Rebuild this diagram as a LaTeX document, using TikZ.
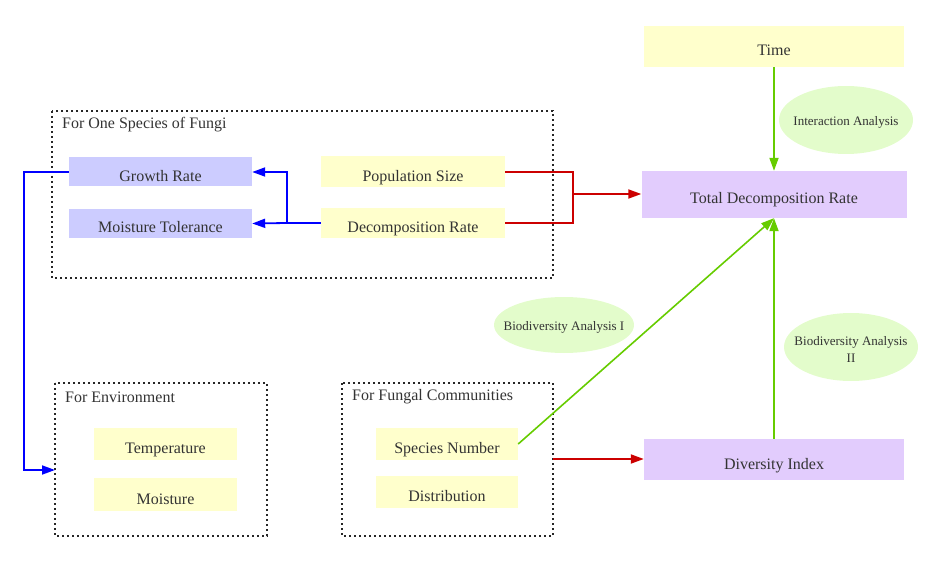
\documentclass[tikz,border=0pt]{standalone}
\usepackage{fontspec}
\setmainfont{Liberation Serif}
\usetikzlibrary{arrows.meta,shapes.geometric,calc}
\definecolor{yel}{HTML}{FFFFCC}
\definecolor{blu}{HTML}{CCCCFF}
\definecolor{pur}{HTML}{E2CCFD}
\definecolor{grn}{HTML}{E3FCCB}
\definecolor{txt}{HTML}{333333}
\definecolor{redc}{HTML}{CC0000}
\definecolor{bluc}{HTML}{0000FF}
\definecolor{grnc}{HTML}{66CC00}
\tikzset{
  box/.style={fill=#1, inner sep=0pt, text=txt, font=\fontsize{16}{18}\selectfont, text height=21pt, text depth=2pt},
  ell/.style={ellipse, fill=grn, inner sep=0pt},
  ellt/.style={inner sep=0pt, text=txt, align=center, font=\fontsize{13}{17}\selectfont},
  cluster/.style={draw=black!85, line width=1.6pt, dash pattern=on 2pt off 3pt},
  clab/.style={anchor=west, text=txt, font=\fontsize{16}{18}\selectfont, inner sep=0pt},
  conn/.style={line width=1.8pt, -{Triangle[length=13pt,width=9pt]}},
  plain/.style={line width=1.8pt},
}
\begin{document}
\begin{tikzpicture}[x=1pt,y=-1pt]
\useasboundingbox (0,0) rectangle (945,561);
% clusters
\draw[cluster] (52,111) rectangle (553,278);
\node[clab] (lab1) at (62,125) {For One Species of Fungi};
\draw[cluster] (55,383) rectangle (267,536);
\node[clab] (lab2) at (65,397) {For Environment};
\draw[cluster] (342,383) rectangle (553,536);
\node[clab] (lab3) at (352,397) {For Fungal Communities};
\coordinate (envin) at (55,470);
\coordinate (fcout) at (553,459);
% nodes
\node[box=yel, minimum width=260pt, minimum height=41pt] (time) at (774,46.5) {Time};
\node[ell, minimum width=134pt, minimum height=68pt] (ia) at (846,120) {};
\node[ellt] (iat) at (846,122) {Interaction Analysis};
\node[box=pur, minimum width=265pt, minimum height=47pt] (tdr) at (774,194.5) {Total Decomposition Rate};
\node[box=blu, minimum width=183pt, minimum height=29pt] (gr) at (160.5,172) {Growth Rate};
\node[box=blu, minimum width=183pt, minimum height=29pt] (mt) at (160.5,223.5) {Moisture Tolerance};
\node[box=yel, minimum width=184pt, minimum height=31pt] (ps) at (413,172) {Population Size};
\node[box=yel, minimum width=184pt, minimum height=30pt] (dr) at (413,223) {Decomposition Rate};
\node[ell, minimum width=140pt, minimum height=56pt] (ba1) at (564,325) {};
\node[ellt] (ba1t) at (564,327) {Biodiversity Analysis I};
\node[ell, minimum width=134pt, minimum height=68pt] (ba2) at (851,347) {};
\node[ellt] (ba2t) at (851,349) {Biodiversity Analysis\\II};
\node[box=yel, minimum width=143pt, minimum height=32pt] (temp) at (165.5,444) {Temperature};
\node[box=yel, minimum width=143pt, minimum height=33pt] (moist) at (165.5,494.5) {Moisture};
\node[box=yel, minimum width=142pt, minimum height=32pt] (sn) at (447,444) {Species Number};
\node[box=yel, minimum width=142pt, minimum height=32pt] (dist) at (447,492) {Distribution};
\node[box=pur, minimum width=260pt, minimum height=41pt] (di) at (774,459.5) {Diversity Index};
% blue connectors
\coordinate (bj) at (287,223);
\draw[plain, bluc] (dr.west) -- (bj);
\draw[conn, bluc] (bj) |- (gr.east);
\draw[conn, bluc] (bj) -- (mt.east);
\draw[conn, bluc] (gr.west) -- ([xshift=-45pt]gr.west) |- (envin);
% red connectors
\coordinate (rj) at (573,194);
\draw[plain, redc] (ps.east) -| (rj) |- (dr.east);
\draw[conn, redc] (rj) -- (rj -| tdr.west);
\draw[conn, redc] (fcout) -- (fcout -| di.west);
% green connectors
\draw[conn, grnc] (time.south) -- (tdr.north);
\draw[conn, grnc] (di.north) -- (tdr.south);
\draw[conn, grnc, line width=1.6pt] (sn.east) -- (tdr.south);
\end{tikzpicture}
\end{document}
